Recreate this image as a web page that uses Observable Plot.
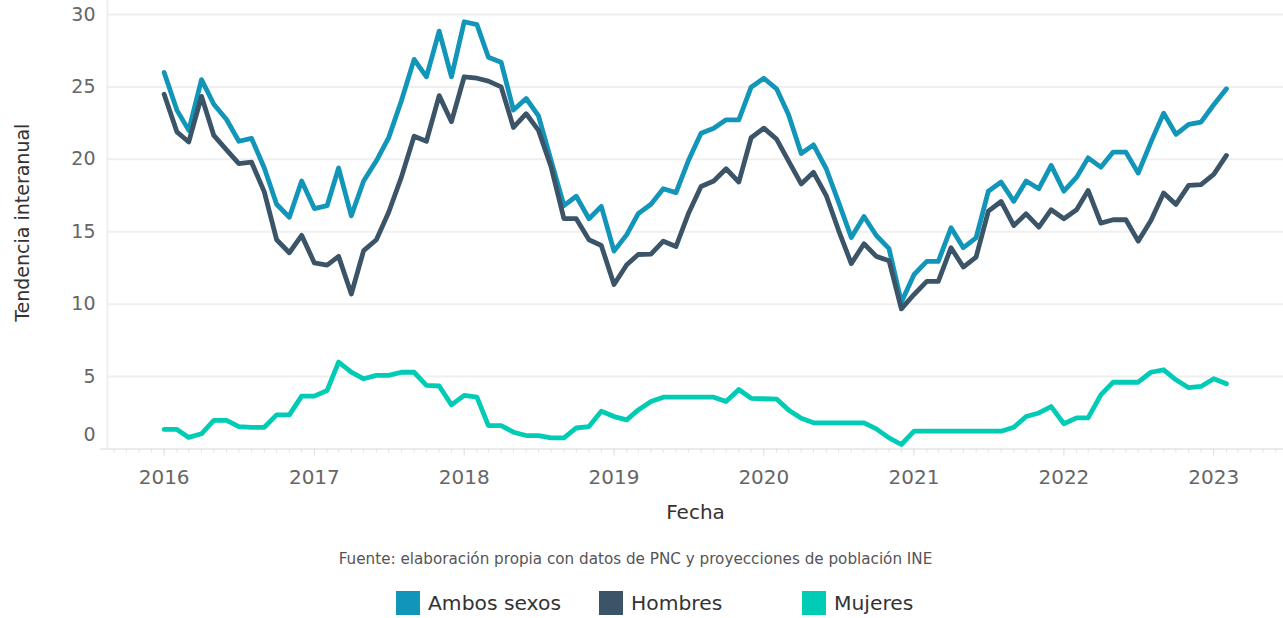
<!DOCTYPE html>
<html>
<head>
<meta charset="utf-8">
<script src="https://cdn.jsdelivr.net/npm/d3@7"></script>
<script src="https://cdn.jsdelivr.net/npm/@observablehq/plot@0.6"></script>
<style>
  body { margin: 0; background: #fff; font-family: "DejaVu Sans", sans-serif; }
  #wrap { position: relative; width: 1283px; height: 618px; overflow: hidden; }
  #chart { position: absolute; left: 0; top: 0; }
  #caption { position: absolute; left: -6px; width: 1283px; top: 549px; text-align: center; font-size: 15.2px; line-height: 20px; color: #555; }
  #legend { position: absolute; left: 396px; top: 591px; display: flex; }
  .item { width: 203px; height: 24px; display: flex; align-items: center; font-size: 20.3px; color: #333; }
  .sw { width: 24px; height: 24px; margin-right: 8px; flex: none; }
</style>
</head>
<body>
<div id="wrap">
  <div id="chart"></div>
  <div id="caption"></div>
  <div id="legend"></div>
</div>
<script>
// ---- Data (monthly, Jan 2016 – Feb 2023) ----
const firstMonth = [2016, 0];
const lastMonth = [2023, 1];
const seriesNames = ["Ambos sexos", "Hombres", "Mujeres"];
const seriesColors = ["#1195b9", "#3b5468", "#00ccb5"];

const ambosSexos = [
  26.0, 23.4, 22.0, 25.5, 23.8, 22.75, 21.25, 21.45, 19.4, 16.9, 16.0, 18.5,
  16.6, 16.8, 19.4, 16.1, 18.5, 19.9, 21.5, 24.05, 26.9, 25.7, 28.85, 25.7,
  29.5, 29.3, 27.05, 26.7, 23.4, 24.2, 23.0, 19.9, 16.8, 17.45, 15.9, 16.75,
  13.66, 14.8, 16.25, 16.9, 17.97, 17.7, 19.9, 21.8, 22.15, 22.73, 22.73, 24.98,
  25.6, 24.87, 23.1, 20.4, 21.0, 19.35, 17.05, 14.6, 16.05, 14.74, 13.83, 10.14,
  12.05, 12.95, 12.95, 15.27, 13.9, 14.58, 17.8, 18.43, 17.1, 18.5, 17.97, 19.58,
  17.8, 18.77, 20.1, 19.46, 20.5, 20.5, 19.05, 21.19, 23.19, 21.72, 22.41, 22.57,
  23.77, 24.87
];
const hombres = [
  24.5, 21.9, 21.2, 24.35, 21.65, 20.65, 19.7, 19.8, 17.75, 14.45, 13.55, 14.75,
  12.85, 12.7, 13.3, 10.7, 13.7, 14.45, 16.35, 18.77, 21.6, 21.25, 24.4, 22.6,
  25.7, 25.6, 25.4, 25.0, 22.2, 23.15, 22.0, 19.45, 15.9, 15.9, 14.45, 14.05,
  11.36, 12.72, 13.43, 13.45, 14.35, 13.98, 16.24, 18.13, 18.5, 19.35, 18.43, 21.49,
  22.15, 21.4, 19.9, 18.3, 19.1, 17.5, 15.1, 12.8, 14.17, 13.3, 13.0, 9.68,
  10.67, 11.57, 11.57, 13.9, 12.56, 13.25, 16.42, 17.09, 15.43, 16.24, 15.32, 16.52,
  15.9, 16.52, 17.85, 15.6, 15.83, 15.83, 14.35, 15.78, 17.67, 16.89, 18.2, 18.25,
  18.96, 20.27
];
const mujeres = [
  1.35, 1.35, 0.8, 1.05, 1.97, 1.97, 1.55, 1.5, 1.5, 2.36, 2.36, 3.65,
  3.65, 4.04, 6.0, 5.3, 4.85, 5.08, 5.08, 5.3, 5.3, 4.39, 4.35, 3.05,
  3.7, 3.58, 1.62, 1.62, 1.16, 0.93, 0.93, 0.77, 0.77, 1.45, 1.55, 2.61,
  2.24, 2.01, 2.7, 3.28, 3.58, 3.58, 3.58, 3.58, 3.58, 3.28, 4.11, 3.5,
  3.47, 3.45, 2.7, 2.13, 1.81, 1.81, 1.81, 1.81, 1.81, 1.39, 0.77, 0.31,
  1.23, 1.23, 1.23, 1.23, 1.23, 1.23, 1.23, 1.23, 1.5, 2.24, 2.49, 2.93,
  1.74, 2.15, 2.15, 3.74, 4.61, 4.61, 4.61, 5.3, 5.47, 4.78, 4.23, 4.32,
  4.85, 4.5
];
const yTickValues = [5, 10, 15, 20, 25, 30];
const yZeroTick = [0];
const yLabel = "Tendencia interanual";
const xLabel = "Fecha";
const captionText = "Fuente: elaboración propia con datos de PNC y proyecciones de población INE";

// ---- Build table ----
const months = d3.utcMonth.range(
  new Date(Date.UTC(firstMonth[0], firstMonth[1], 1)),
  new Date(Date.UTC(lastMonth[0], lastMonth[1] + 1, 1))
);
const seriesValues = [ambosSexos, hombres, mujeres];
const table = [];
seriesNames.forEach((name, k) => {
  seriesValues[k].forEach((v, i) => table.push({ date: months[i], value: v, series: name }));
});

const xDomain = [new Date(Date.UTC(2015, 7, 16)), new Date(Date.UTC(2023, 5, 20))];
const gridColor = "#efefef";
const tickColor = "#e2e2e2";

const chart = Plot.plot({
  width: 1283,
  height: 530,
  marginLeft: 107,
  marginRight: 0,
  marginTop: 14,
  marginBottom: 81.5,
  style: { fontFamily: "DejaVu Sans", background: "white", overflow: "visible" },
  x: { type: "utc", domain: xDomain },
  y: { domain: [0, 30] },
  color: { domain: seriesNames, range: seriesColors },
  marks: [
    Plot.ruleY(yTickValues, { stroke: gridColor, strokeWidth: 2 }),
    Plot.ruleX([xDomain[0]], { stroke: gridColor, strokeWidth: 2, insetTop: -14 }),
    Plot.ruleY(yZeroTick, { stroke: "#ebebeb", strokeWidth: 2, insetLeft: -7 }),
    Plot.axisX({ ticks: "month", tickSize: 4, tickFormat: () => "", stroke: tickColor, label: null }),
    Plot.axisX({ ticks: "year", tickSize: 8, tickPadding: 12.5, tickFormat: "%Y", stroke: tickColor, fill: "#666", fontSize: 20, label: null }),
    Plot.axisY({ ticks: yTickValues, tickSize: 0, tickPadding: 12, fill: "#666", fontSize: 19, label: null }),
    Plot.axisY({ ticks: yZeroTick, tickSize: 0, tickPadding: 12, dy: -14, fill: "#666", fontSize: 19, label: null }),
    Plot.line(table, { x: "date", y: "value", z: "series", stroke: "series", strokeWidth: 4.8 }),
    Plot.text([yLabel], { frameAnchor: "left", textAnchor: "middle", lineAnchor: "middle", rotate: -90, dx: -85, dy: -9, fontSize: 19, fill: "#333" }),
    Plot.text([xLabel], { frameAnchor: "bottom", lineAnchor: "middle", dy: 63.5, fontSize: 20, fill: "#333" })
  ]
});
document.getElementById("chart").appendChild(chart);

document.getElementById("caption").textContent = captionText;
const legend = document.getElementById("legend");
seriesNames.forEach((name, k) => {
  const item = document.createElement("div");
  item.className = "item";
  const sw = document.createElement("span");
  sw.className = "sw";
  sw.style.background = seriesColors[k];
  const label = document.createElement("span");
  label.textContent = name;
  item.appendChild(sw);
  item.appendChild(label);
  legend.appendChild(item);
});
</script>
</body>
</html>
